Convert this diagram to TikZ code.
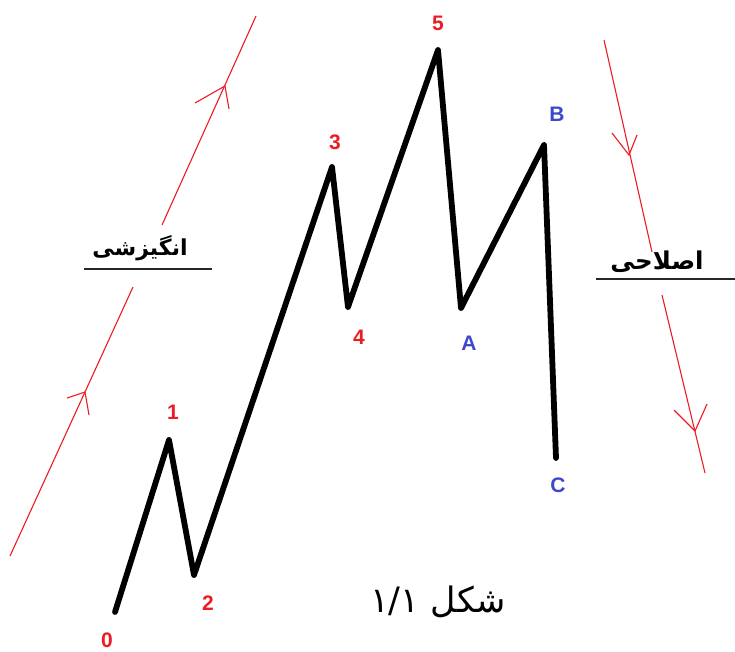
\documentclass[tikz,border=0pt]{standalone}
\usepackage{fontspec}
\setmainfont{Liberation Sans}
\newfontfamily\arabicfont[Script=Arabic]{DejaVu Sans}
\TeXXeTstate=1
\definecolor{pred}{RGB}{237,28,36}
\definecolor{pblue}{RGB}{63,72,204}
\begin{document}
\begin{tikzpicture}[x=1pt,y=-1pt,
  wave/.style={line width=5.8pt, black, line join=round, line cap=round},
  trendline/.style={pred, line width=1.1pt},
  rlabel/.style={text=pred, font=\fontsize{21}{21}\selectfont\bfseries, inner sep=0pt},
  blabel/.style={text=pblue, font=\fontsize{21}{21}\selectfont\bfseries, inner sep=0pt},
  fatext/.style={font=\arabicfont\bfseries\fontsize{22}{22}\selectfont, inner sep=0pt},
  underline/.style={line width=1.6pt, black!85}]
\useasboundingbox (0,0) rectangle (735,652);
% wave points
\coordinate (p0) at (115,612);
\coordinate (p1) at (169,440);
\coordinate (p2) at (194,575);
\coordinate (p3) at (332,167);
\coordinate (p4) at (348,307);
\coordinate (p5) at (438,50);
\coordinate (pA) at (461,308);
\coordinate (pB) at (544,145);
\coordinate (pC) at (556,458);
\draw[wave] (p0) -- (p1) -- (p2) -- (p3) -- (p4) -- (p5) -- (pA) -- (pB) -- (pC);
% labels
\node[rlabel] (l0) at (107,640) {0};
\node[rlabel] (l1) at (173,412) {1};
\node[rlabel] (l2) at (208,603) {2};
\node[rlabel] (l3) at (335,142) {3};
\node[rlabel] (l4) at (359,337) {4};
\node[rlabel] (l5) at (438,23) {5};
\node[blabel] (lA) at (469,343) {A};
\node[blabel] (lB) at (557,114) {B};
\node[blabel] (lC) at (558,485) {C};
% left upper red arrow
\coordinate (lu1) at (256,16);
\coordinate (lu2) at (162,225);
\coordinate (luh) at (225,86);
\coordinate (lub1) at (195,103);
\coordinate (lub2) at (229,109);
\draw[trendline] (lu1) -- (lu2);
\draw[trendline] (lub1) -- (luh) -- (lub2);
% left lower red arrow
\coordinate (ll1) at (133,287);
\coordinate (ll2) at (10,556);
\coordinate (llh) at (85,392);
\coordinate (llb1) at (67,398);
\coordinate (llb2) at (89,415);
\draw[trendline] (ll1) -- (ll2);
\draw[trendline] (llb1) -- (llh) -- (llb2);
% right upper red arrow
\coordinate (ru1) at (604,40);
\coordinate (ru2) at (652,252);
\coordinate (ruh) at (629,155);
\coordinate (rub1) at (612,133);
\coordinate (rub2) at (637,135);
\draw[trendline] (ru1) -- (ru2);
\draw[trendline] (rub1) -- (ruh) -- (rub2);
% right lower red arrow
\coordinate (rl1) at (662,295);
\coordinate (rl2) at (705,473);
\coordinate (rlh) at (695,431);
\coordinate (rlb1) at (674,410);
\coordinate (rlb2) at (707,404);
\draw[trendline] (rl1) -- (rl2);
\draw[trendline] (rlb1) -- (rlh) -- (rlb2);
% texts and underlines
\node[fatext] (tleft) at (140,248) {\beginR انگیزشی\endR};
\coordinate (ul1) at (84,269);
\coordinate (ul2) at (212,269);
\draw[underline] (ul1) -- (ul2);
\node[fatext, font=\arabicfont\bfseries\fontsize{24.5}{24.5}\selectfont] (tright) at (657,262) {\beginR اصلاحی\endR};
\coordinate (ur1) at (596,279);
\coordinate (ur2) at (735,279);
\draw[underline] (ur1) -- (ur2);
\node[fatext, font=\arabicfont\fontsize{35}{35}\selectfont] (cap) at (438,602) {\beginR شکل ۱/۱\endR};
\end{tikzpicture}
\end{document}
